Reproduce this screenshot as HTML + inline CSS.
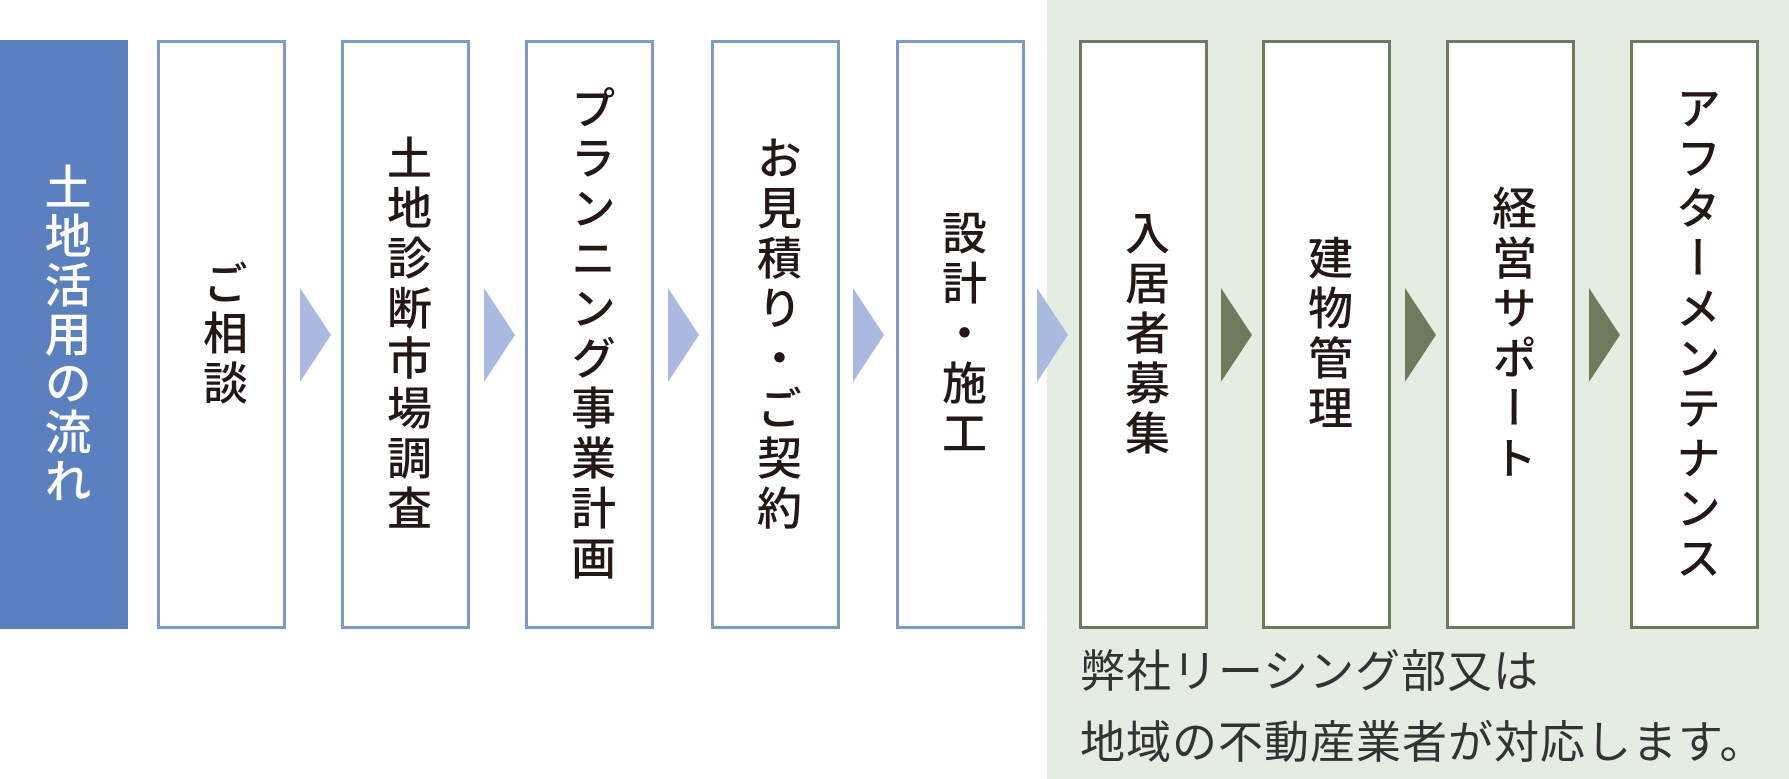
<!DOCTYPE html>
<html><head><meta charset="utf-8"><style>
body{margin:0;width:1789px;height:779px;background:#fff;position:relative;overflow:hidden;font-family:"Liberation Sans","Noto Sans CJK JP",sans-serif;}
.bg{position:absolute;left:1047px;top:0;width:742px;height:779px;background:#e5ece2;}
.box{position:absolute;top:40px;width:123px;height:583px;border:3px solid #7b9ad0;background:#fff;display:flex;align-items:center;justify-content:center;}
.g{border-color:#6e7a5b;}
.t{writing-mode:vertical-rl;font-size:45px;font-weight:500;color:#231815;letter-spacing:5px;line-height:1;}
.title{position:absolute;left:0;top:40px;width:128px;height:589px;background:#5b80c0;display:flex;align-items:center;justify-content:center;}
.title .t{color:#fff;font-size:47px;letter-spacing:2px;}
.arr{position:absolute;top:288px;width:0;height:0;border-top:47px solid transparent;border-bottom:47px solid transparent;border-left:31px solid #a9b9e0;}
.ag{border-left-color:#6e7a5b;}
.note{position:absolute;left:1080px;font-size:45px;color:#333;white-space:nowrap;letter-spacing:1px;line-height:1.2;}
</style></head><body>
<div class="bg"></div>
<div class="title"><div class="t">土地活用の流れ</div></div>
<div class="box" style="left:157px"><div class="t">ご相談</div></div>
<div class="box" style="left:341px"><div class="t">土地診断市場調査</div></div>
<div class="box" style="left:525px"><div class="t">プランニング事業計画</div></div>
<div class="box" style="left:711px"><div class="t">お見積り・ご契約</div></div>
<div class="box" style="left:896px"><div class="t">設計・施工</div></div>
<div class="box g" style="left:1079px"><div class="t">入居者募集</div></div>
<div class="box g" style="left:1262px"><div class="t">建物管理</div></div>
<div class="box g" style="left:1446px"><div class="t">経営サポート</div></div>
<div class="box g" style="left:1630px"><div class="t">アフターメンテナンス</div></div>
<div class="arr" style="left:300px"></div>
<div class="arr" style="left:484px"></div>
<div class="arr" style="left:668px"></div>
<div class="arr" style="left:853px"></div>
<div class="arr" style="left:1037px"></div>
<div class="arr ag" style="left:1221px"></div>
<div class="arr ag" style="left:1405px"></div>
<div class="arr ag" style="left:1589px"></div>
<div class="note" style="top:645px">弊社リーシング部又は</div>
<div class="note" style="top:716px">地域の不動産業者が対応します。</div>
</body></html>
